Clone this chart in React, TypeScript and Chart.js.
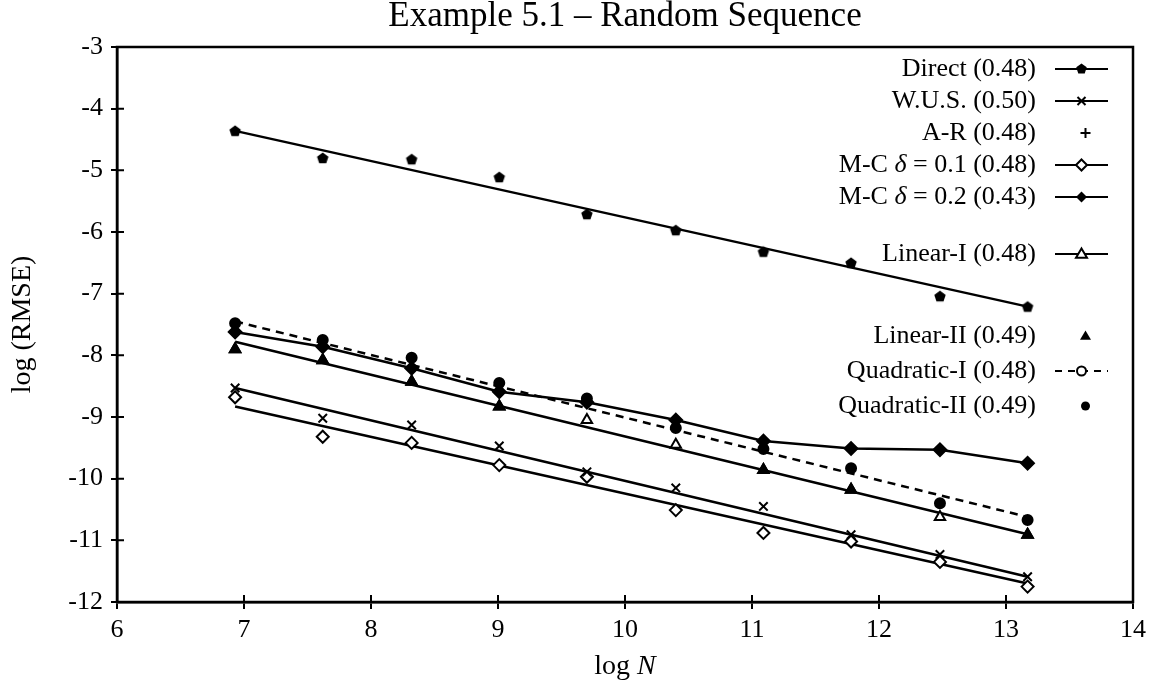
import React, { useEffect, useRef } from 'react';
import { Chart, registerables } from 'chart.js';

Chart.register(...registerables);

const FONT = '"Liberation Serif", "DejaVu Serif", serif';
const FONT_SIZE = 26;
const AXIS_TITLE_SIZE = 28;
const TITLE_SIZE = 35;

const TITLE = 'Example 5.1 – Random Sequence';
const X_TITLE = 'log ';
const X_TITLE_VAR = 'N';
const Y_TITLE = 'log (RMSE)';

const X_MIN = 6;
const X_MAX = 14;
const Y_MIN = -12;
const Y_MAX = -3;

// log N for N = 2^10 ... 2^19
const logN = [6.93, 7.62, 8.32, 9.01, 9.7, 10.4, 11.09, 11.78, 12.48, 13.17];

// measured points
const directPts = [-4.36, -4.8, -4.82, -5.11, -5.71, -5.97, -6.32, -6.5, -7.04, -7.21];
const wusPts = [-8.53, -9.02, -9.13, -9.47, -9.89, -10.15, -10.45, -10.91, -11.23, -11.59];
const mc01Pts = [-8.68, -9.32, -9.42, -9.78, -9.97, -10.51, -10.88, -11.02, -11.35, -11.75];
const mc02Pts = [-7.62, -7.86, -8.21, -8.59, -8.76, -9.05, -9.39, -9.51, -9.53, -9.75];
const linearIPts = [-7.9, -8.08, -8.43, -8.83, -9.05, -9.45, -9.86, -10.18, -10.62, -10.91];
const linearIIPts = [-7.9, -8.08, -8.43, -8.83, null, null, -9.86, -10.18, null, -10.91];
const quadIIPts = [-7.48, -7.75, -8.04, -8.45, -8.7, -9.18, -9.52, -9.83, -10.4, -10.67];

// fitted lines (end points)
const fitX = [6.93, 13.17];
const directFit = [-4.36, -7.21];
const wusFit = [-8.53, -11.59];
const mc01Fit = [-8.83, -11.7];
const linearIFit = [-7.78, -10.9];
const quadIFit = [-7.45, -10.62];

const legendLabels = [
  'Direct (0.48)',
  'W.U.S. (0.50)',
  'A-R (0.48)',
  'M-C δ = 0.1 (0.48)',
  'M-C δ = 0.2 (0.43)',
  'Linear-I (0.48)',
  'Linear-II (0.49)',
  'Quadratic-I (0.48)',
  'Quadratic-II (0.49)',
];
const legendLine = ['solid', 'solid', 'none', 'solid', 'solid', 'solid', 'none', 'dashed', 'none'];
const legendMarker = ['pentagon', 'cross', 'plus', 'diamondOpen', 'diamondFilled', 'triangleOpen', 'triangleFilled', 'circleOpen', 'circleFilled'];
// vertical offsets of the legend rows from the top of the plot area
const legendRowOffset = [22, 54, 86, 118, 150, 207, 289, 324, 359];

const pts = (xs: number[], ys: (number | null)[]) =>
  xs.map((x, i) => ({ x, y: ys[i] })).filter((p) => p.y !== null) as { x: number; y: number }[];

function makePentagon(r: number): HTMLCanvasElement {
  const c = document.createElement('canvas');
  const s = Math.ceil(r * 2 + 2);
  c.width = s;
  c.height = s;
  const g = c.getContext('2d')!;
  g.fillStyle = '#000';
  g.beginPath();
  for (let i = 0; i < 5; i++) {
    const a = -Math.PI / 2 + (i * 2 * Math.PI) / 5;
    const x = s / 2 + r * Math.cos(a);
    const y = s / 2 + 0.5 + r * Math.sin(a);
    if (i === 0) g.moveTo(x, y);
    else g.lineTo(x, y);
  }
  g.closePath();
  g.fill();
  return c;
}

function drawMarker(ctx: CanvasRenderingContext2D, kind: string, x: number, y: number) {
  ctx.save();
  ctx.strokeStyle = '#000';
  ctx.fillStyle = '#000';
  ctx.lineWidth = 2;
  const r = 5.5;
  ctx.beginPath();
  if (kind === 'pentagon') {
    for (let i = 0; i < 5; i++) {
      const a = -Math.PI / 2 + (i * 2 * Math.PI) / 5;
      const px = x + r * Math.cos(a);
      const py = y + r * Math.sin(a);
      if (i === 0) ctx.moveTo(px, py);
      else ctx.lineTo(px, py);
    }
    ctx.closePath();
    ctx.fill();
  } else if (kind === 'cross') {
    const d = 4;
    ctx.moveTo(x - d, y - d);
    ctx.lineTo(x + d, y + d);
    ctx.moveTo(x + d, y - d);
    ctx.lineTo(x - d, y + d);
    ctx.stroke();
  } else if (kind === 'plus') {
    ctx.moveTo(x - 5, y);
    ctx.lineTo(x + 5, y);
    ctx.moveTo(x, y - 5);
    ctx.lineTo(x, y + 5);
    ctx.stroke();
  } else if (kind === 'diamondOpen' || kind === 'diamondFilled') {
    ctx.moveTo(x, y - r);
    ctx.lineTo(x + r, y);
    ctx.lineTo(x, y + r);
    ctx.lineTo(x - r, y);
    ctx.closePath();
    if (kind === 'diamondOpen') {
      ctx.fillStyle = '#fff';
      ctx.fill();
      ctx.stroke();
    } else ctx.fill();
  } else if (kind === 'triangleOpen' || kind === 'triangleFilled') {
    ctx.moveTo(x, y - r);
    ctx.lineTo(x + r, y + r * 0.7);
    ctx.lineTo(x - r, y + r * 0.7);
    ctx.closePath();
    if (kind === 'triangleOpen') {
      ctx.fillStyle = '#fff';
      ctx.fill();
      ctx.stroke();
    } else ctx.fill();
  } else if (kind === 'circleOpen' || kind === 'circleFilled') {
    ctx.arc(x, y, 4.5, 0, Math.PI * 2);
    if (kind === 'circleOpen') {
      ctx.fillStyle = '#fff';
      ctx.fill();
      ctx.stroke();
    } else ctx.fill();
  }
  ctx.restore();
}

const decorPlugin = {
  id: 'decor',
  afterDatasetsDraw(chart: any) {
    const { ctx, chartArea: a, scales } = chart;
    ctx.save();
    ctx.strokeStyle = '#000';
    ctx.lineWidth = 2.5;
    ctx.strokeRect(a.left, a.top, a.right - a.left, a.bottom - a.top);

    // inward tick marks
    ctx.lineWidth = 2;
    ctx.beginPath();
    for (let v = X_MIN + 1; v < X_MAX; v++) {
      const px = scales.x.getPixelForValue(v);
      ctx.moveTo(px, a.bottom);
      ctx.lineTo(px, a.bottom - 7);
    }
    for (let v = Y_MIN + 1; v < Y_MAX; v++) {
      const py = scales.y.getPixelForValue(v);
      ctx.moveTo(a.left, py);
      ctx.lineTo(a.left + 7, py);
    }
    ctx.stroke();

    // title, centred over the plot area
    ctx.fillStyle = '#000';
    ctx.font = `${TITLE_SIZE}px ${FONT}`;
    ctx.textAlign = 'center';
    ctx.textBaseline = 'alphabetic';
    ctx.fillText(TITLE, (a.left + a.right) / 2, 26);

    // legend
    const textRight = a.right - 97;
    const sL = a.right - 78;
    const sR = a.right - 25;
    const sC = (sL + sR) / 2;
    ctx.textBaseline = 'middle';
    ctx.textAlign = 'left';
    legendLabels.forEach((label, i) => {
      const y = a.top + legendRowOffset[i];
      const parts = label.split('δ');
      const segs: { t: string; it: boolean }[] = [];
      parts.forEach((p, j) => {
        if (j > 0) segs.push({ t: 'δ', it: true });
        segs.push({ t: p, it: false });
      });
      let total = 0;
      segs.forEach((s) => {
        ctx.font = `${s.it ? 'italic ' : ''}${FONT_SIZE}px ${FONT}`;
        total += ctx.measureText(s.t).width;
      });
      let x = textRight - total;
      segs.forEach((s) => {
        ctx.font = `${s.it ? 'italic ' : ''}${FONT_SIZE}px ${FONT}`;
        ctx.fillText(s.t, x, y);
        x += ctx.measureText(s.t).width;
      });
      if (legendLine[i] !== 'none') {
        ctx.save();
        ctx.lineWidth = 2;
        if (legendLine[i] === 'dashed') ctx.setLineDash([7, 6]);
        ctx.beginPath();
        ctx.moveTo(sL, y);
        ctx.lineTo(sR, y);
        ctx.stroke();
        ctx.restore();
      }
      drawMarker(ctx, legendMarker[i], legendLine[i] === 'none' ? sC + 4 : sC, y);
    });

    // x axis title with italic N
    ctx.font = `${AXIS_TITLE_SIZE}px ${FONT}`;
    const w1 = ctx.measureText(X_TITLE).width;
    ctx.font = `italic ${AXIS_TITLE_SIZE}px ${FONT}`;
    const w2 = ctx.measureText(X_TITLE_VAR).width;
    const cx = (a.left + a.right) / 2;
    const ty = 667;
    let tx = cx - (w1 + w2) / 2;
    ctx.font = `${AXIS_TITLE_SIZE}px ${FONT}`;
    ctx.fillText(X_TITLE, tx, ty);
    tx += w1;
    ctx.font = `italic ${AXIS_TITLE_SIZE}px ${FONT}`;
    ctx.fillText(X_TITLE_VAR, tx, ty);
    ctx.restore();
  },
};

export default function App() {
  const ref = useRef<HTMLCanvasElement>(null);
  useEffect(() => {
    const canvas = ref.current!;
    const pent = makePentagon(6);
    const lineDs = (label: string, ys: number[], dash: number[] = []) => ({
      label,
      data: pts(fitX, ys),
      showLine: true,
      borderColor: '#000',
      borderWidth: 2.5,
      borderDash: dash,
      pointRadius: 0,
      order: 4,
    });
    const pointDs = (label: string, ys: (number | null)[], style: any, order: number, extra: any = {}) => ({
      label,
      data: pts(logN, ys),
      showLine: false,
      pointStyle: style,
      pointRadius: 5,
      pointBorderColor: '#000',
      pointBackgroundColor: '#000',
      pointBorderWidth: 2,
      order,
      ...extra,
    });
    const chart = new Chart(canvas, {
      type: 'scatter',
      data: {
        datasets: [
          lineDs('Direct fit', directFit),
          lineDs('W.U.S. fit', wusFit),
          lineDs('M-C 0.1 fit', mc01Fit),
          lineDs('Linear-I fit', linearIFit),
          lineDs('Quadratic-I fit', quadIFit, [8, 6]),
          {
            label: 'M-C δ = 0.2',
            data: pts(logN, mc02Pts),
            showLine: true,
            borderColor: '#000',
            borderWidth: 2.5,
            pointStyle: 'rectRot',
            pointRadius: 6,
            pointBackgroundColor: '#000',
            pointBorderColor: '#000',
            order: 3,
          } as any,
          pointDs('Direct', directPts, pent, 1),
          pointDs('W.U.S.', wusPts, 'crossRot', 1, { pointRadius: 6 }),
          pointDs('M-C δ = 0.1', mc01Pts, 'rectRot', 1, { pointRadius: 6, pointBackgroundColor: '#fff' }),
          pointDs('Linear-I', linearIPts, 'triangle', 2, { pointRadius: 6, pointBackgroundColor: '#fff' }),
          pointDs('Linear-II', linearIIPts, 'triangle', 1, { pointRadius: 6 }),
          pointDs('Quadratic-II', quadIIPts, 'circle', 1, { pointRadius: 5 }),
        ],
      },
      options: {
        animation: false,
        responsive: false,
        maintainAspectRatio: false,
        layout: { padding: { left: 0, right: 24, top: 47, bottom: 0 } },
        plugins: {
          legend: { display: false },
          tooltip: { enabled: false },
          title: { display: false },
        },
        scales: {
          x: {
            type: 'linear',
            min: X_MIN,
            max: X_MAX,
            ticks: { stepSize: 1, color: '#000', font: { family: FONT, size: FONT_SIZE }, padding: 6 },
            grid: { drawOnChartArea: false, drawTicks: true, tickLength: 7, color: '#000', lineWidth: 2 },
            border: { color: '#000', width: 2.5 },
            afterFit: (s: any) => {
              s.height = 92;
            },
          },
          y: {
            type: 'linear',
            min: Y_MIN,
            max: Y_MAX,
            ticks: { stepSize: 1, color: '#000', font: { family: FONT, size: FONT_SIZE }, padding: 8 },
            grid: { drawOnChartArea: false, drawTicks: true, tickLength: 6, color: '#000', lineWidth: 2 },
            border: { color: '#000', width: 2.5 },
            title: {
              display: true,
              text: Y_TITLE,
              color: '#000',
              font: { family: FONT, size: AXIS_TITLE_SIZE },
              padding: { top: 6, bottom: 0 },
            },
            afterFit: (s: any) => {
              s.width = 117;
            },
          },
        },
      } as any,
      plugins: [decorPlugin],
    });
    return () => chart.destroy();
  }, []);
  return (
    <div style={{ position: 'fixed', left: 0, top: 0, width: 1157, height: 694, background: '#fff' }}>
      <canvas ref={ref} width={1157} height={694} style={{ display: 'block' }} />
    </div>
  );
}
